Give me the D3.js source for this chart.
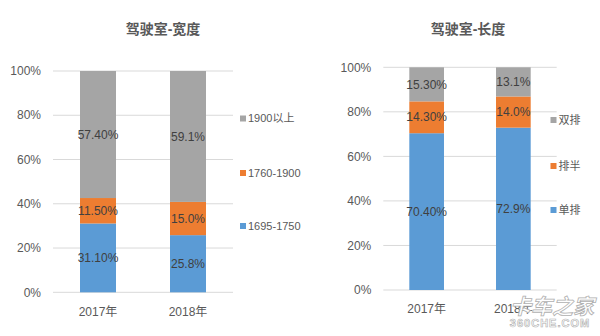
<!DOCTYPE html>
<html><head><meta charset="utf-8">
<script src="https://cdn.jsdelivr.net/npm/d3@7"></script>
<style>
body{margin:0;background:#fff;}
text{font-family:"Liberation Sans","Noto Sans CJK SC",sans-serif;}
</style></head>
<body>
<svg id="c" width="600" height="336"></svg>
<script>
const categories = ["2017年","2018年"];
const tickValues = [0,20,40,60,80,100];
const tickLabels = ["0%","20%","40%","60%","80%","100%"];

// Chart 1: cab width
const widthTitle = "驾驶室-宽度";
const widthSeriesNames = ["1695-1750","1760-1900","1900以上"];
const width1695 = [31.1, 25.8];
const width1760 = [11.5, 15.0];
const width1900 = [57.4, 59.1];
const width1695Labels = ["31.10%","25.8%"];
const width1760Labels = ["11.50%","15.0%"];
const width1900Labels = ["57.40%","59.1%"];

// Chart 2: cab length
const lengthTitle = "驾驶室-长度";
const lengthSeriesNames = ["单排","排半","双排"];
const lengthSingle = [70.4, 72.9];
const lengthHalf = [14.3, 14.0];
const lengthDouble = [15.3, 13.1];
const lengthSingleLabels = ["70.40%","72.9%"];
const lengthHalfLabels = ["14.30%","14.0%"];
const lengthDoubleLabels = ["15.30%","13.1%"];

const colors = ["#5B9BD5","#ED7D31","#A5A5A5"];
const svg = d3.select("#c");

function drawChart(cfg){
  const g = svg.append("g");
  const x = d3.scaleBand().domain(categories).range([cfg.x0,cfg.x1]).paddingInner(0.6).paddingOuter(0.3);
  const y = d3.scaleLinear().domain([0,100]).range([cfg.y0,cfg.y1]);
  // grid
  g.selectAll(".grid").data(tickValues).enter().append("line")
    .attr("x1",cfg.x0).attr("x2",cfg.x1)
    .attr("y1",d=>y(d)).attr("y2",d=>y(d))
    .attr("stroke","#D9D9D9").attr("stroke-width",1);
  // ticks
  g.selectAll(".tk").data(tickValues).enter().append("text")
    .attr("x",cfg.x0-12).attr("y",d=>y(d)).attr("dy","0.35em")
    .attr("text-anchor","end").attr("font-size",12).attr("fill","#595959")
    .text((d,i)=>tickLabels[i]);
  // stacking (100% stacked)
  const rows = categories.map((c,i)=>{
    const vals = cfg.series.map(s=>s[i]);
    const tot = d3.sum(vals);
    const r = {cat:c};
    cfg.names.forEach((n,k)=>r[n]=vals[k]/tot*100);
    return r;
  });
  const stack = d3.stack().keys(cfg.names)(rows);
  stack.forEach((layer,k)=>{
    g.selectAll(".b"+k).data(layer).enter().append("rect")
      .attr("x",d=>x(d.data.cat)).attr("width",x.bandwidth())
      .attr("y",d=>y(d[1])).attr("height",d=>y(d[0])-y(d[1]))
      .attr("fill",colors[k]);
  });
  stack.forEach((layer,k)=>{
    g.selectAll(".l"+k).data(layer).enter().append("text")
      .attr("x",d=>x(d.data.cat)+x.bandwidth()/2)
      .attr("y",d=>y((d[0]+d[1])/2)).attr("dy","0.35em")
      .attr("text-anchor","middle").attr("font-size",12).attr("fill","#404040")
      .text((d,i)=>cfg.labels[k][i]);
  });
  // category labels
  g.selectAll(".cat").data(categories).enter().append("text")
    .attr("x",d=>x(d)+x.bandwidth()/2).attr("y",cfg.catY).attr("dy","0.35em")
    .attr("text-anchor","middle").attr("font-size",12).attr("fill","#595959")
    .text(d=>d);
  // title
  g.append("text").attr("x",cfg.titleX).attr("y",29).attr("dy","0.35em")
    .attr("text-anchor","middle").attr("font-size",14).attr("font-weight","bold")
    .attr("fill","#595959").text(cfg.title);
  // legend
  cfg.names.forEach((n,k)=>{
    g.append("rect").attr("x",cfg.legX).attr("y",cfg.legY[k]-3).attr("width",6).attr("height",6).attr("fill",colors[k]);
    g.append("text").attr("x",cfg.legX+8).attr("y",cfg.legY[k]).attr("dy","0.35em")
      .attr("font-size",11).attr("fill","#595959").text(n);
  });
}

drawChart({x0:53,x1:233,y0:292.3,y1:71,series:[width1695,width1760,width1900],
  names:widthSeriesNames,labels:[width1695Labels,width1760Labels,width1900Labels],
  catY:311.5,titleX:163,title:widthTitle,legX:240,legY:[226,173,118.5]});
drawChart({x0:383.3,x1:556.7,y0:290,y1:67.3,series:[lengthSingle,lengthHalf,lengthDouble],
  names:lengthSeriesNames,labels:[lengthSingleLabels,lengthHalfLabels,lengthDoubleLabels],
  catY:308.3,titleX:468,title:lengthTitle,legX:550.5,legY:[210,166,120]});

// watermark
svg.append("text").attr("x",552).attr("y",314).attr("text-anchor","middle")
  .attr("font-size",21).attr("font-weight","bold").attr("font-style","italic")
  .attr("fill","#fff").attr("stroke","#b0b0b0").attr("stroke-width",0.8)
  .text("卡车之家");
svg.append("text").attr("x",550).attr("y",327).attr("text-anchor","middle")
  .attr("font-size",11).attr("font-weight","bold").attr("letter-spacing",1)
  .attr("fill","#fff").attr("stroke","#b0b0b0").attr("stroke-width",0.6)
  .text("360CHE.COM");
</script>
</body></html>
